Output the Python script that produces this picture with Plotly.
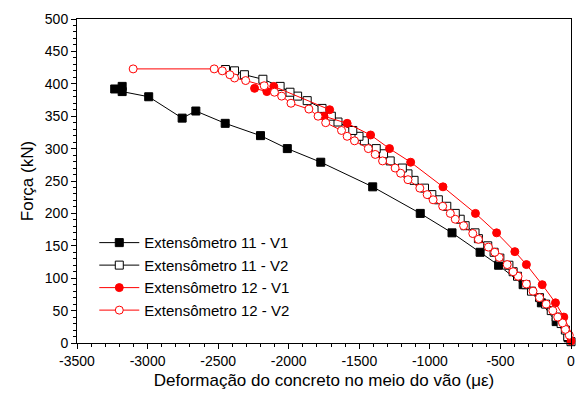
import plotly.graph_objects as go

# Extensômetro 11 - V1 (strain in microstrain, force in kN)
ext11_v1_def = [-20, -105, -210, -339, -513, -644, -843, -1068, -1405, -1773, -2010, -2200, -2450,
                -2658, -2755, -2992, -3180, -3233, -3180]
ext11_v1_forca = [8, 33, 62, 90, 120, 140, 170, 200, 241, 279, 300, 320, 339,
                  358, 347, 380, 388, 392, 396]

# Extensômetro 11 - V2
ext11_v2_def = [0, -23, -40, -70, -105, -140, -180, -223, -280, -320, -379, -410, -440, -504,
                -545, -590, -656, -680, -750, -785, -820, -880, -940, -986, -1038, -1112, -1155,
                -1195, -1281, -1328, -1380, -1464, -1502, -1546, -1651, -1698, -1764, -1869,
                -1937, -1991, -2061, -2183, -2314, -2384, -2448]
ext11_v2_forca = [2, 10, 20, 30, 40, 50, 60, 70, 80, 90, 103, 110, 120, 131,
                  140, 150, 161, 170, 181, 191, 200, 211, 221, 229, 239, 251, 261,
                  270, 281, 292, 300, 312, 319, 328, 341, 350, 362, 374,
                  381, 387, 396, 407, 414, 420, 422]

# Extensômetro 12 - V1
ext12_v1_def = [0, 3, -51, -110, -204, -316, -398, -527, -677, -907, -1136, -1286, -1420, -1586,
                -1750, -1710, -2106, -2155, -2242]
ext12_v1_forca = [3, 15, 40, 62, 90, 121, 141, 170, 200, 241, 279, 300, 321, 339,
                  350, 360, 396, 388, 393]

# Extensômetro 12 - V2
ext12_v2_def = [3, -12, -40, -60, -94, -129, -176, -223, -269, -316, -375, -410, -452, -508,
                -540, -585, -656, -696, -761, -820, -855, -909, -977, -1019, -1071, -1155,
                -1207, -1246, -1335, -1387, -1436, -1534, -1586, -1626, -1738, -1792, -1857,
                -1984, -2050, -2101, -2174, -2305, -2384, -2417, -2471, -2528, -3102]
ext12_v2_forca = [2, 12, 21, 31, 40, 50, 60, 70, 80, 91, 103, 110, 121, 132,
                  140, 148, 160, 169, 181, 191, 200, 211, 221, 229, 239, 252,
                  262, 270, 281, 291, 300, 312, 319, 328, 340, 350, 361,
                  370, 381, 387, 397, 405, 409, 414, 420, 423, 423]

# tick labels (hyphen minus, as in the original)
x_ticks = [-3500, -3000, -2500, -2000, -1500, -1000, -500, 0]
x_tick_labels = ['-3500', '-3000', '-2500', '-2000', '-1500', '-1000', '-500', '0']

fig = go.Figure()

fig.add_trace(go.Scatter(
    x=ext11_v1_def, y=ext11_v1_forca, mode='lines+markers',
    name='Extensômetro 11 - V1', cliponaxis=False,
    line=dict(color='black', width=1),
    marker=dict(symbol='square', size=8, color='black', line=dict(color='black', width=1)),
))
fig.add_trace(go.Scatter(
    x=ext11_v2_def, y=ext11_v2_forca, mode='lines+markers',
    name='Extensômetro 11 - V2', cliponaxis=False,
    line=dict(color='black', width=1),
    marker=dict(symbol='square', size=8, color='white', line=dict(color='black', width=1)),
))
fig.add_trace(go.Scatter(
    x=ext12_v1_def, y=ext12_v1_forca, mode='lines+markers',
    name='Extensômetro 12 - V1', cliponaxis=False,
    line=dict(color='red', width=1),
    marker=dict(symbol='circle', size=8, color='red', line=dict(color='red', width=1)),
))
fig.add_trace(go.Scatter(
    x=ext12_v2_def, y=ext12_v2_forca, mode='lines+markers',
    name='Extensômetro 12 - V2', cliponaxis=False,
    line=dict(color='red', width=1),
    marker=dict(symbol='circle', size=8, color='white', line=dict(color='red', width=1)),
))

font_family = 'Arial, Liberation Sans, sans-serif'

fig.update_layout(
    width=586, height=398,
    margin=dict(l=77, r=11, t=13, b=55),
    plot_bgcolor='white', paper_bgcolor='white',
    font=dict(family=font_family, color='black', size=14),
    showlegend=True,
    legend=dict(
        x=0.035, y=0.36, xanchor='left', yanchor='top',
        bgcolor='rgba(0,0,0,0)', font=dict(size=15, family=font_family),
        tracegroupgap=0, itemwidth=40,
    ),
)

fig.update_xaxes(
    range=[-3500, 0], tickvals=x_ticks, ticktext=x_tick_labels,
    showgrid=False, zeroline=False,
    showline=True, linecolor='black', linewidth=1, mirror=True,
    ticks='outside', ticklen=5, tickcolor='black',
    minor=dict(dtick=100, ticks='outside', ticklen=3, tickcolor='black'),
    tickfont=dict(size=14),
    title=dict(text='Deformação do concreto no meio do vão (με)', font=dict(size=17), standoff=6),
)
fig.update_yaxes(
    range=[0, 500], dtick=50, tick0=0,
    showgrid=False, zeroline=False,
    showline=True, linecolor='black', linewidth=1, mirror=True,
    ticks='outside', ticklen=5, tickcolor='black',
    minor=dict(dtick=10, ticks='outside', ticklen=3, tickcolor='black'),
    tickfont=dict(size=14),
    title=dict(text='Força (kN)', font=dict(size=17), standoff=6),
)

fig.write_html("out.html", config={'displayModeBar': False},
               post_script="document.body.style.margin='0';")
